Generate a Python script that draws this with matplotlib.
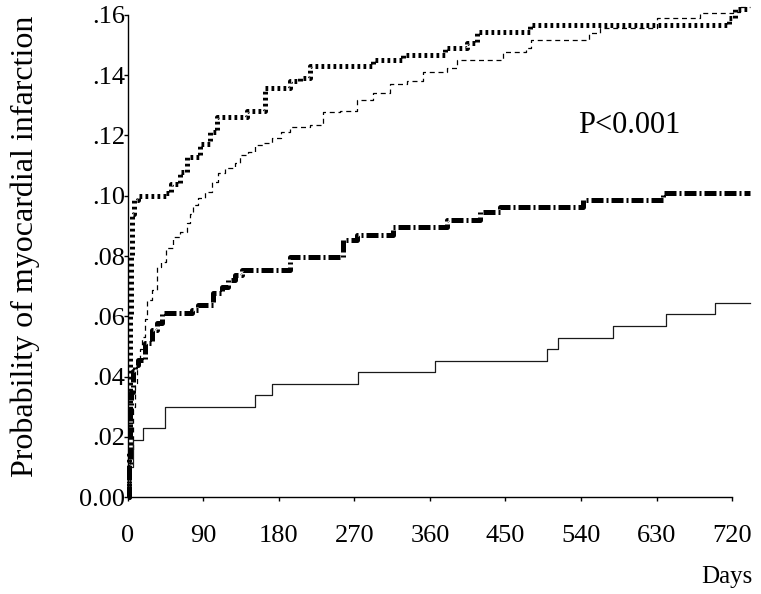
import matplotlib.pyplot as plt
import numpy as np

plt.rcParams['font.family'] = ['Liberation Serif', 'DejaVu Serif']

# cumulative probability of myocardial infarction, step points (day, prob)
days_a = [0, 1, 2, 3, 4, 5, 7, 12, 46, 52, 62, 70, 86, 98, 106, 142, 163,
          190, 193, 205, 217, 292, 328, 378, 404, 416, 479, 709, 716, 724, 741]
prob_a = [0.0, 0.015, 0.035, 0.06, 0.08, 0.094, 0.0985, 0.100, 0.101, 0.104,
          0.108, 0.113, 0.117, 0.121, 0.126, 0.128, 0.1356, 0.1356, 0.138,
          0.139, 0.143, 0.145, 0.1466, 0.149, 0.1506, 0.1542, 0.1566, 0.1566,
          0.159, 0.162, 0.162]

days_b = [0, 3, 6, 9, 11, 14, 17, 20, 23, 29, 35, 40, 46, 54, 62, 70, 74, 78,
          84, 92, 100, 107, 116, 128, 134, 143, 151, 161, 172, 182, 193, 217,
          233, 253, 273, 292, 312, 333, 352, 380, 392, 440, 447, 475, 480,
          550, 563, 630, 682, 721, 730, 741]
prob_b = [0.0, 0.015, 0.03, 0.038, 0.0444, 0.049, 0.0531, 0.059, 0.0653,
          0.0687, 0.0763, 0.078, 0.0826, 0.0862, 0.0879, 0.0909, 0.094,
          0.0969, 0.0992, 0.1012, 0.1045, 0.1075, 0.1091, 0.1108, 0.1134,
          0.1144, 0.1168, 0.1174, 0.119, 0.121, 0.1227, 0.1234, 0.1277, 0.128,
          0.1317, 0.134, 0.137, 0.138, 0.141, 0.1423, 0.145, 0.145, 0.1476,
          0.149, 0.1516, 0.154, 0.1556, 0.159, 0.1605, 0.161, 0.1625, 0.1625]

days_c = [0, 1, 2, 3, 4, 6, 8, 12, 20, 29, 35, 41, 76, 83, 101, 112, 119,
          128, 136, 193, 256, 273, 316, 380, 420, 443, 542, 638, 741]
prob_c = [0.0, 0.01, 0.02, 0.028, 0.035, 0.042, 0.044, 0.0454, 0.051,
          0.0554, 0.0577, 0.061, 0.062, 0.0637, 0.0677, 0.0697, 0.072,
          0.0736, 0.0753, 0.0796, 0.0852, 0.0869, 0.0896, 0.0919, 0.0945,
          0.0962, 0.0985, 0.101, 0.101]

days_d = [0, 3, 6, 18, 44, 151, 172, 274, 366, 500, 513, 578, 641, 700, 741]
prob_d = [0.0, 0.01, 0.019, 0.0229, 0.030, 0.0338, 0.0375, 0.0415, 0.0451,
          0.049, 0.0527, 0.0567, 0.0607, 0.0643, 0.0643]

xticks = [0, 90, 180, 270, 360, 450, 540, 630, 720]
yticks = [0.0, 0.02, 0.04, 0.06, 0.08, 0.10, 0.12, 0.14, 0.16]
ylabels = ['0.00', '.02', '.04', '.06', '.08', '.10', '.12', '.14', '.16']

fig = plt.figure(figsize=(7.61, 5.94), dpi=100)
ax = fig.add_axes([0.168, 0.163, 0.794, 0.812])

ax.step(days_b, prob_b, where='post', color='black', lw=0.9,
        linestyle=(0, (4, 3)), clip_on=False)
ax.step(days_d, prob_d, where='post', color='#1a1a1a', lw=0.9,
        clip_on=False)
ax.step(days_c, prob_c, where='post', color='black', lw=3.6,
        linestyle=(0, (2.4, 0.6, 0.4, 0.6)), dash_capstyle='butt',
        clip_on=False)
ax.step(days_a, prob_a, where='post', color='black', lw=3.6,
        linestyle=(0, (0.55, 0.65)), dash_capstyle='butt', clip_on=False)

ax.set_xlim(0, 720)
ax.set_ylim(0, 0.16)
ax.set_xticks(xticks)
ax.set_xticklabels([str(t) for t in xticks])
ax.set_yticks(yticks)
ax.set_yticklabels(ylabels)

for side in ['top', 'right']:
    ax.spines[side].set_visible(False)
for side in ['left', 'bottom']:
    ax.spines[side].set_linewidth(1.0)

ax.tick_params(axis='x', direction='out', length=3, width=1.0, pad=17,
               labelsize=19)
ax.tick_params(axis='y', direction='out', length=3, width=1.0, pad=-1,
               labelsize=19)

fig.text(0.033, 0.585, 'Probability of myocardial infarction', rotation=90,
         ha='center', va='center', fontsize=23)
fig.text(0.955, 0.028, 'Days', ha='center', va='center', fontsize=18)
ax.text(0.83, 0.77, 'P<0.001', transform=ax.transAxes, ha='center',
        va='center', fontsize=22)

fig.savefig('out.png', dpi=100)
